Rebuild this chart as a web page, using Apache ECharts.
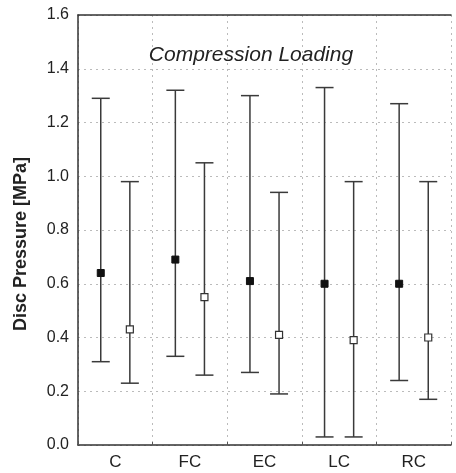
<!DOCTYPE html>
<html><head><meta charset="utf-8">
<script src="https://cdn.jsdelivr.net/npm/echarts@6/dist/echarts.min.js"></script>
<style>html,body{margin:0;padding:0;background:#fff}#c{width:456px;height:473px}</style>
</head><body><div id="c"></div>
<script>
const categories = ['C','FC','EC','LC','RC'];
const yTicks = [0,0.2,0.4,0.6,0.8,1.0,1.2,1.4,1.6];
// filled squares: mean, lower, upper
const filledMean  = [0.64,0.69,0.61,0.60,0.60];
const filledLow   = [0.31,0.33,0.27,0.03,0.24];
const filledHigh  = [1.29,1.32,1.30,1.33,1.27];
// open squares: mean, lower, upper
const openMean    = [0.43,0.55,0.41,0.39,0.40];
const openLow     = [0.23,0.26,0.19,0.03,0.17];
const openHigh    = [0.98,1.05,0.94,0.98,0.98];

function build(mean, low, high){
  return categories.map((c,i)=>[i, mean[i], low[i], high[i]]);
}
function makeRender(offset, filled){
  return function(params, api){
    const idx = api.value(0);
    const bw = api.size([1,0])[0];
    const m = api.coord([idx, api.value(1)]);
    const lo = api.coord([idx, api.value(2)]);
    const hi = api.coord([idx, api.value(3)]);
    const x = m[0] + bw*offset;
    const cap = 9, s = 3.5;
    const st = {stroke:'#3a3a3a', lineWidth:1.5};
    return {type:'group', children:[
      {type:'line', shape:{x1:x,y1:lo[1],x2:x,y2:hi[1]}, style:st},
      {type:'line', shape:{x1:x-cap,y1:lo[1],x2:x+cap,y2:lo[1]}, style:st},
      {type:'line', shape:{x1:x-cap,y1:hi[1],x2:x+cap,y2:hi[1]}, style:st},
      {type:'rect', shape:{x:x-s,y:m[1]-s,width:2*s,height:2*s},
        style: filled ? {fill:'#111', stroke:'#111', lineWidth:1} : {fill:'#fff', stroke:'#333', lineWidth:1.2}}
    ]};
  };
}
const FONT = 'Liberation Sans, Arial, sans-serif';
const chart = echarts.init(document.getElementById('c'));
chart.setOption({
  animation:false,
  grid:{left:78,right:5,top:15,bottom:28},
  title:{text:'Compression Loading', left:246, top:40, textAlign:'center',
    textStyle:{fontFamily:FONT, fontStyle:'italic', fontWeight:'normal', fontSize:21, color:'#222'}},
  graphic:[{
    type:'text', x:21, y:244, rotation:Math.PI/2,
    style:{text:'Disc Pressure [MPa]', fontFamily:FONT, fontWeight:'bold', fontSize:18, fill:'#222',
      align:'center', verticalAlign:'middle'}
  }],
  xAxis:[{
    type:'category', data:categories, boundaryGap:true,
    axisLine:{lineStyle:{color:'#333',width:1.5}},
    axisTick:{show:true, length:3, inside:true, lineStyle:{color:'#555'}},
    axisLabel:{fontFamily:FONT, fontSize:17, color:'#222', margin:9},
    splitLine:{show:true, lineStyle:{color:'#bbb', type:[2,4], width:1}}
  },{
    type:'category', data:categories, position:'top',
    axisLine:{lineStyle:{color:'#333',width:1.5}},
    axisTick:{show:false}, axisLabel:{show:false}, splitLine:{show:false}
  }],
  yAxis:{
    type:'value', min:0, max:1.6, interval:0.2,
    axisLine:{show:true, lineStyle:{color:'#333',width:1.5}},
    axisTick:{show:false},
    axisLabel:{fontFamily:FONT, fontSize:16, color:'#222', margin:9,
      formatter: v => { const t = yTicks.find(x=>Math.abs(x-v)<1e-9); return (t!==undefined?t:v).toFixed(1); }},
    splitLine:{show:true, lineStyle:{color:'#bbb', type:[2,4], width:1}}
  },
  series:[
    {type:'custom', renderItem:makeRender(-0.195,true), data:build(filledMean,filledLow,filledHigh), encode:{x:0,y:[1,2,3]}},
    {type:'custom', renderItem:makeRender(0.195,false), data:build(openMean,openLow,openHigh), encode:{x:0,y:[1,2,3]}}
  ]
});
</script></body></html>
